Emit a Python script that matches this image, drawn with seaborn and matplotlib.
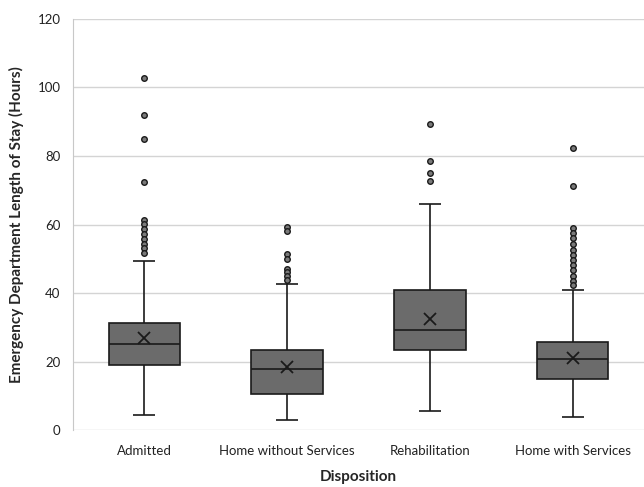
import numpy as np
import pandas as pd
import matplotlib
matplotlib.use("Agg")
import matplotlib.pyplot as plt
import seaborn as sns

categories = ["Admitted", "Home without Services", "Rehabilitation", "Home with Services"]
whisker_low = [4.4, 2.9, 5.5, 3.9]
q1 = [19.1, 10.4, 23.5, 14.8]
median = [25.1, 17.8, 29.3, 20.7]
q3 = [31.3, 23.4, 41.0, 25.6]
whisker_high = [49.3, 42.7, 66.1, 41.0]
means = [26.9, 18.4, 32.5, 20.9]
outliers_admitted = [102.8, 92.0, 84.9, 72.5, 61.2, 60.2, 58.8, 57.2, 55.8, 54.4, 53.1, 51.8]
outliers_home_without = [59.3, 58.0, 51.3, 50.0, 47.0, 46.0, 44.9, 43.8]
outliers_rehab = [89.3, 78.4, 75.1, 72.8]
outliers_home_with = [82.3, 71.1, 59.0, 57.5, 56.0, 54.3, 52.7, 51.1, 49.6, 48.1, 46.6, 45.1, 43.6, 42.2]
outliers = [outliers_admitted, outliers_home_without, outliers_rehab, outliers_home_with]


def box_sample(lo, a, m, b, hi, outs):
    # sorted sample whose linear percentiles equal the read quartiles
    k = len(outs) + 1
    return [lo] + [a] * k + [m] * (2 * k - 1) + [b] + [hi] + list(outs)


rows = []
for i, c in enumerate(categories):
    for v in box_sample(whisker_low[i], q1[i], median[i], q3[i], whisker_high[i], outliers[i]):
        rows.append((c, v))
df = pd.DataFrame(rows, columns=["Disposition", "LOS"])
mean_df = pd.DataFrame({"Disposition": categories, "mean": means})

sns.set_style("white")
plt.rcParams["font.family"] = ["Lato", "DejaVu Sans"]

fig = plt.figure(figsize=(6.44, 4.87), dpi=100)
ax = fig.add_axes([0.1134, 0.117, 0.8866, 0.844])

sns.boxplot(data=df, x="Disposition", y="LOS", order=categories, ax=ax,
            width=0.5, color="#6b6b6b", linewidth=1.2, linecolor="#1a1a1a",
            saturation=1, whis=1.5,
            flierprops=dict(marker="o", markersize=4, markerfacecolor="#7a7a7a",
                            markeredgecolor="#1a1a1a", markeredgewidth=1.0),
            boxprops=dict(edgecolor="#1a1a1a"),
            medianprops=dict(color="#1a1a1a", linewidth=1.2),
            whiskerprops=dict(color="#1a1a1a", linewidth=1.2),
            capprops=dict(color="#1a1a1a", linewidth=1.2, visible=False))

# narrower whisker caps, drawn at the whisker ends of each category
pos = np.arange(len(categories))
cap_half = 0.077
ax.hlines(whisker_low, pos - cap_half, pos + cap_half, color="#1a1a1a", linewidth=1.2, zorder=3)
ax.hlines(whisker_high, pos - cap_half, pos + cap_half, color="#1a1a1a", linewidth=1.2, zorder=3)

sns.pointplot(data=mean_df, x="Disposition", y="mean", order=categories, ax=ax,
              linestyle="none", markers="x", color="#1a1a1a", markersize=8,
              markeredgewidth=1.3, errorbar=None)

ax.set_ylim(0, 120)
ax.set_xlim(-0.5, 3.5)
ax.set_yticks(np.arange(0, 121, 20))
ax.yaxis.grid(True, color="#d4d4d4", linewidth=1.0)
ax.set_axisbelow(True)
for s in ["top", "right", "bottom"]:
    ax.spines[s].set_visible(False)
ax.spines["left"].set_color("#c8c8c8")
ax.tick_params(axis="y", length=0, labelsize=9.5, colors="#222222", pad=9)
ax.tick_params(axis="x", length=0, labelsize=9.5, colors="#222222", pad=11)
ax.set_xlabel("Disposition", fontsize=11, fontweight="bold", labelpad=9)
ax.set_ylabel("Emergency Department Length of Stay (Hours)", fontsize=11,
              fontweight="bold", labelpad=10)

fig.savefig("out.png", dpi=100)
